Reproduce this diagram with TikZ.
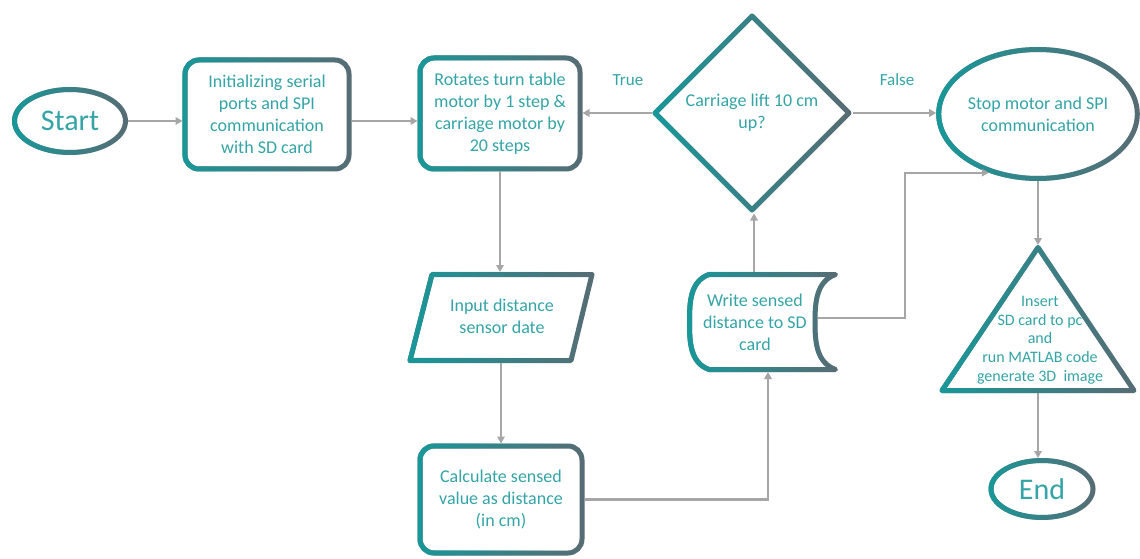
\documentclass[tikz,border=0pt]{standalone}
\usepackage{fontspec}
\setmainfont{Carlito}
\usetikzlibrary{shapes.geometric,arrows.meta,fadings}
\definecolor{bteal}{RGB}{24,152,154}
\definecolor{bgrey}{RGB}{88,108,116}
\definecolor{tcol}{RGB}{52,164,166}
\definecolor{agrey}{RGB}{166,166,166}
\tikzfading[name=fadeR, left color=transparent!0, right color=transparent!100]
\begin{document}
\begin{tikzpicture}[x=1pt,y=1pt,
  gb/.style={draw=bgrey, line width=5pt, line join=round, fill=white,
    postaction={draw=bteal, line width=5pt, line join=round, path fading=fadeR}},
  txt/.style={text=tcol, font=\fontsize{18}{22}\selectfont, align=center, inner sep=0pt},
  big/.style={font=\fontsize{30}{34}\selectfont},
  arr/.style={draw=agrey, line width=2.2pt, -{Triangle[length=7pt,width=7.5pt]}}]
\path[use as bounding box, fill=white] (0,0) rectangle (1140,558);

% nodes
\node[gb, txt, big, ellipse, minimum width=111pt, minimum height=63pt] (start) at (70,437) {Start};
\node[gb, txt, rectangle, rounded corners=14pt, minimum width=164pt, minimum height=109pt] (init) at (267,443.5) {Initializing serial\\ports and SPI\\communication\\with SD card};
\node[gb, txt, rectangle, rounded corners=14pt, minimum width=160pt, minimum height=111pt] (rot) at (500,444.5) {Rotates turn table\\motor by 1 step \&\\carriage motor by\\20 steps};
\node[gb, txt, diamond, minimum width=196pt, minimum height=196pt] (dec) at (752,445) {Carriage lift 10 cm\\up?};
\node[gb, txt, ellipse, minimum width=195pt, minimum height=129pt] (stop) at (1038,444) {Stop motor and SPI\\communication};
\node[gb, txt, big, ellipse, minimum width=102pt, minimum height=57pt] (end) at (1042,69) {End};
\node[gb, txt, rectangle, rounded corners=14pt, minimum width=162pt, minimum height=107pt] (calc) at (501,58.5) {Calculate sensed\\value as distance\\(in cm)};

% input parallelogram
\draw[gb] (432,283.5) -- (592,283.5) -- (571,197.5) -- (410,197.5) -- cycle;
\node[txt] (input) at (502,242) {Input distance\\sensor date};
\coordinate (intop) at (500,286);
\coordinate (inbot) at (501,195);

% write (stored data)
\draw[gb] (709,283.5) -- (835.5,283.5) to[out=200,in=90] (815,236) to[out=270,in=160] (835.5,188.5)
  -- (709,188.5) to[out=160,in=270] (689.5,236) to[out=90,in=200] (709,283.5) -- cycle;
\node[txt] (write) at (755,236) {Write sensed\\distance to SD\\card};
\coordinate (wtop) at (754,286);
\coordinate (wbot) at (768,186);
\coordinate (wright) at (817.5,240);
\coordinate (jn) at (905,240);

% triangle
\draw[gb] (1038,310.5) -- (1134,167.5) -- (942,167.5) -- cycle;
\node[txt, font=\fontsize{16}{18.7}\selectfont] (tri) at (1040,218) {Insert\\SD card to pc\\and\\run MATLAB code\\generate 3D\ \ image};
\coordinate (tapex) at (1038,313);
\coordinate (tbase) at (1038,165);

% labels
\node[txt, font=\fontsize{17}{20}\selectfont] (lt) at (628,478) {True};
\node[txt, font=\fontsize{17}{20}\selectfont] (lf) at (897,478) {False};

% connectors
\draw[arr] (start.east) -- (start.east -| init.west);
\draw[arr] (init.east |- start.east) -- (start.east -| rot.west);
\draw[arr] (dec.west) -- (dec.west -| rot.east);
\draw[arr] (dec.east) -- (dec.east -| stop.west);
\draw[arr] (rot.south) -- (rot.south |- intop);
\draw[arr] (inbot) -- (inbot |- calc.north);
\draw[arr] (calc.east) -| (wbot);
\draw[arr] (wtop) -- (wtop |- dec.south);
\draw[arr] (wright) -- (jn) |- (stop.230);
\draw[arr] (stop.south) -- (tapex);
\draw[arr] (tbase) -- (tbase |- end.north);
\end{tikzpicture}
\end{document}
